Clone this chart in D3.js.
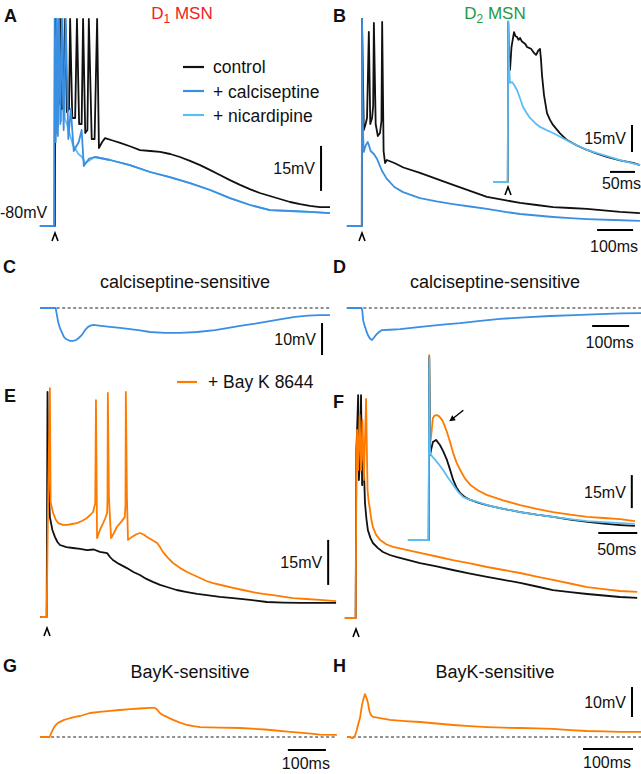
<!DOCTYPE html>
<meta charset="utf-8">
<head>
  <script src="https://cdn.jsdelivr.net/npm/d3@7"></script>
  <style>
    body { margin: 0; background: #fff; }
    text { font-family: Arial, "Liberation Sans", sans-serif; fill: #111; }
  </style>
</head>
<body>
<script>
var w = 641, h = 774;

var cControl = "#111", cCalci = "#3a8fe3", cNicard = "#5cbdf2", cBayk = "#ff7b00";

// traces: [time (ms from stimulus), membrane potential (mV)]
var aNicard = [[-42,-80],[-2,-80],[-1.5,-50],[0,-11],[3,-49],[5,-11],[9,-47],[12,-11],[17,-45],[21,-11],[27,-44],[33,-46],[40,-49],[50,-53],[65,-56],[75,-57],[84,-59],[111,-57],[153,-58],[208,-59.7],[264,-62],[319,-63.7],[375,-65.7],[431,-68],[486,-70.7],[542,-73],[597,-74.7],[653,-75],[708,-75.3],[764,-75.7]];
var aCalci = [[-42,-80],[-2.5,-80],[-2,-52],[-1,-11],[2,-52],[5,-11],[8,-50],[11,-11],[15,-46],[19,-11],[24,-48],[30,-11],[37,-51],[44,-41],[52,-55],[66,-52],[74,-48],[80,-60],[95,-57.5],[111,-57],[153,-58],[208,-59.7],[264,-62],[319,-63.7],[375,-65.7],[431,-68],[486,-70.7],[542,-73],[597,-74.7],[653,-75],[708,-75.3],[764,-75.7]];
var aControl = [[-42,-80],[-0.5,-80],[0,-60],[3,-11],[8,-40],[11,-39],[14,-11],[19,-41],[24,-40],[28,-11],[33,-42],[39,-41],[42,-11],[48,-44],[56,-44],[61,-11],[67,-46],[74,-46],[78,-11],[84,-49],[90,-48],[94,-11],[102,-51],[110,-51],[117,-11],[122,-54],[131,-52],[139,-50.7],[160,-51.5],[181,-52.3],[210,-53.5],[236,-54.7],[265,-55],[292,-55.3],[320,-56],[347,-57],[375,-58.3],[403,-59.7],[430,-61.3],[458,-63],[486,-64.7],[514,-66.3],[541,-67.7],[569,-69],[597,-70],[625,-71],[653,-72],[681,-72.7],[708,-73.3],[736,-73.7],[764,-73.7]];

var bControl = [[-42,-80],[-0.5,-80],[0,-11],[5,-48],[10,-46],[14,-44],[19,-15.3],[23,-46],[28,-44],[31,-40],[33,-12.3],[38,-46],[44,-50],[50,-49],[54,-45],[56,-12],[60,-55],[64,-59],[69,-58],[90,-59],[115,-60.5],[161,-62.3],[207,-64.3],[253,-66.3],[300,-68.3],[347,-70.3],[393,-71.3],[439,-72.3],[485,-73],[531,-73.7],[578,-74],[625,-74.3],[671,-74.8],[717,-75.3],[772,-75.7]];
var bCalci = [[-42,-80],[-0.5,-80],[0,-11],[3,-50],[5,-55.3],[8,-54],[11,-53],[16,-52],[19,-53],[24,-55],[33,-56],[42,-57.7],[55,-61.5],[69,-64.3],[90,-67],[114,-68.7],[161,-70.7],[207,-71.8],[253,-72.7],[300,-73.5],[347,-74.3],[393,-75.2],[439,-76],[485,-76.5],[531,-77],[578,-77.4],[625,-77.7],[700,-78],[772,-78.3]];
var bInsetControl = [[-30,-80],[-0.5,-80],[0.5,9],[2,-10],[4,-17.8],[7,-5],[12,3.3],[15,1],[18,0.6],[21,-1],[24,0],[28,-2],[32,-2.8],[35,-3.5],[38,-5],[42,-5.5],[46,-6],[50,-7.5],[52,-8.3],[56,-9.4],[58,-8.5],[60,-7.2],[64,-6.1],[66,-12],[68,-20.6],[72,-31.7],[78,-41.7],[84,-45.5],[90,-48.3],[104,-53],[118,-56.7],[138,-59.7],[158,-62.2],[178,-64.3],[198,-66.1],[224,-68],[250,-69.4],[264,-70.6]];
var bInsetNicard = [[-30,-80],[-0.5,-80],[0.5,9.4],[2,-15],[4,-25],[8,-24.4],[12,-26],[18,-28.9],[24,-33.5],[30,-38.3],[37,-41.5],[44,-44.4],[54,-47.2],[64,-49.4],[77,-51.2],[90,-52.8],[107,-55.3],[124,-57.8],[141,-60],[158,-62.2],[178,-64],[198,-65.6],[224,-67.8],[250,-69.6],[264,-70.6]];

// difference traces (mV relative to baseline)
var cSensitive = [[-44,0],[-1,0],[0,-0.6],[6,-4.4],[11,-6.3],[17,-7.8],[22,-9],[28,-9.7],[39,-10.3],[48,-10.3],[56,-10],[64,-9.3],[72,-8.4],[80,-7],[89,-5.9],[96,-5.5],[103,-5.3],[125,-5.6],[150,-5.9],[178,-6.2],[206,-6.6],[233,-7],[261,-7.5],[303,-7.8],[344,-7.8],[392,-7.5],[442,-6.9],[475,-6.3],[511,-5.6],[553,-4.9],[594,-4.1],[630,-3.4],[664,-2.8],[700,-2.4],[733,-2.2],[761,-2.2]];
var dSensitive = [[-41,0],[-1,0],[1,-1],[3,-3.8],[7,-5.5],[11,-6.9],[15,-8.2],[19,-9.1],[23,-9.7],[27,-10],[32,-9.3],[38,-8.4],[46,-7.5],[54,-6.9],[75,-6.8],[103,-6.6],[140,-6.1],[184,-5.6],[225,-5.1],[265,-4.7],[320,-4],[373,-3.4],[440,-2.9],[508,-2.5],[575,-2.2],[643,-1.9],[700,-1.7],[754,-1.6]];

var eControl = [[-19,-80],[-1,-80],[1.4,-5],[4,-34.3],[8,-46.7],[15,-51],[22,-53.3],[29,-55],[36,-56],[54,-56.7],[72,-57],[92,-57.3],[111,-57.7],[130,-57.5],[147,-58.3],[167,-58.7],[175,-60],[183,-61],[200,-62.3],[222,-63.7],[240,-65],[258,-66],[276,-67.3],[294,-68.3],[314,-69.3],[333,-70],[360,-71],[389,-71.7],[417,-72.3],[444,-72.7],[480,-73.3],[517,-73.7],[564,-74.3],[611,-75],[657,-75.2],[703,-75.3],[750,-75.3],[803,-75.3]];
var eBayk = [[-19,-80],[-1,-80],[3,-41],[8,-3.7],[10,-41.7],[17,-45.3],[24,-47.5],[31,-48.7],[44,-49.3],[56,-49.3],[70,-49],[83,-48.7],[97,-48],[111,-47],[120,-46],[128,-45],[134,-42],[136,-7.7],[139,-53.7],[147,-51],[156,-48.7],[162,-47],[167,-45.3],[168,-41],[169,-5.3],[172,-40],[178,-53.7],[186,-52],[194,-50],[206,-48.3],[216,-46.7],[218,-42.7],[219,-5],[222,-40],[225,-54.3],[236,-53.3],[247,-52.5],[258,-52],[268,-52.5],[278,-53.3],[292,-54.3],[306,-55.3],[314,-56.7],[322,-58.3],[336,-60.3],[350,-62],[370,-63.7],[389,-65],[407,-66],[425,-67],[443,-68],[461,-68.7],[489,-69.5],[517,-70.3],[544,-71],[572,-71.7],[600,-72.3],[628,-72.7],[655,-73.2],[683,-73.7],[720,-74],[758,-74.3],[803,-74.7]];

var fControl = [[-31,-80],[-1,-80],[1,-24],[3,-17.3],[6,-5.7],[8,-34],[11,-27.3],[14,-5.7],[17,-35.7],[20,-28],[22,-30.7],[25,-41.7],[29,-47],[33,-50.7],[40,-53.3],[47,-55],[61,-56.7],[75,-58],[94,-59],[114,-59.7],[146,-60.7],[178,-61.7],[224,-62.8],[269,-64],[317,-65.2],[364,-66.3],[410,-67.3],[456,-68.3],[502,-69.5],[547,-70.7],[595,-71.4],[642,-72],[688,-72.5],[733,-73],[781,-73.3]];
var fBayk = [[-31,-80],[-1,-80],[1,-34],[3,-17.3],[6,-30.7],[10,-12.3],[14,-30.7],[18,-14],[22,-34],[28,-7],[32,-37.3],[35,-41],[39,-44],[43,-47.5],[47,-49.7],[56,-52.3],[67,-54],[85,-55.5],[103,-56.3],[140,-57.3],[178,-58.3],[224,-59.5],[269,-60.7],[317,-61.8],[364,-63],[410,-64],[456,-65],[502,-66.2],[547,-67.3],[595,-68.5],[642,-69.7],[688,-70.4],[733,-71],[781,-71.3]];
var fInsetBayk = [[-27,-80],[-0.4,-80],[0.3,4],[1.3,-36.8],[2.6,-33.2],[5,-24.5],[7,-23.5],[10,-23.2],[13,-23.8],[17,-25.5],[20,-28],[23,-30.9],[27,-35.5],[31,-40.5],[35,-44.5],[40,-48.2],[46,-52],[53,-55],[63,-57.5],[74,-59.5],[95,-62],[117,-64.1],[138,-65.9],[159,-67.3],[181,-68.5],[203,-69.5],[224,-70],[245,-70.5],[264,-71.4]];
var fInsetControl = [[-27,-80],[-0.4,-80],[0.3,3],[1.3,-41.4],[2.6,-39.1],[5,-35.5],[9,-34.5],[14,-36.8],[18,-39.5],[23,-43.6],[27,-48],[31,-52.7],[35,-56],[40,-58.6],[46,-60.5],[53,-61.8],[63,-63],[74,-64.1],[95,-65.8],[117,-67.3],[138,-68.5],[159,-69.5],[181,-70.7],[203,-71.8],[224,-72.6],[245,-73.2],[264,-73.6]];
var fInsetNicard = [[-27,-80],[-0.4,-80],[0.3,3],[1.3,-40.5],[4,-42],[8,-43.6],[13,-45.8],[18,-48.2],[24,-51.5],[31,-55],[37,-58],[44,-60.5],[53,-61.8],[62,-62.7],[74,-64.1],[95,-65.8],[117,-67.3],[138,-68.5],[159,-69.5],[181,-70.5],[203,-71.4],[224,-71.9],[245,-72.3],[264,-72.7]];

var gSensitive = [[-26,0],[-1,0],[3,1.3],[7,2.3],[11,3.3],[16,4.1],[21,4.7],[29,5.2],[37,5.7],[45,6],[53,6.3],[66,6.7],[79,7],[92,7.5],[105,8],[131,8.4],[158,8.7],[184,9],[211,9.3],[237,9.5],[263,9.7],[276,9.7],[283,9],[289,8],[297,7.3],[305,6.9],[314,6.3],[324,5.7],[342,4.8],[361,4],[378,3.6],[395,3.3],[447,3.1],[500,3],[566,2.5],[632,1.7],[680,1.2],[711,0.8],[755,0.7]];
var hSensitive = [[-16,0],[-9,0],[-6,-0.4],[-3,-0.2],[-1,0],[3,2],[6,4],[10,6.3],[14,10.7],[17,12.7],[20,14.3],[23,13],[26,11.3],[29,8.5],[32,7.3],[36,6.7],[50,6.3],[70,5.7],[100,5.3],[130,5],[163,4.5],[196,4],[230,3.6],[264,3.3],[297,3.1],[330,3],[363,2.9],[396,2.7],[430,2.3],[464,2],[497,1.9],[530,1.7],[572,1.7]];

var legendA = [["control", cControl], ["+ calciseptine", cCalci], ["+ nicardipine", cNicard]];

var svg = d3.select("body").append("svg")
    .attr("width", w)
    .attr("height", h);

function panel(t0, t1, x0, x1, v0, v1, y0, y1) {
  return {
    x: d3.scaleLinear().domain([t0, t1]).range([x0, x1]),
    y: d3.scaleLinear().domain([v0, v1]).range([y0, y1])
  };
}

var pA = panel(0, 100, 55, 91, -80, -65, 226, 181);
var pB = panel(0, 100, 362, 398, -80, -65, 226, 181);
var pBi = panel(0, 50, 508, 533, -80, -65, 182, 155);
var pC = panel(0, 100, 56, 92, 0, -10, 308, 340);
var pD = panel(0, 100, 362, 399, 0, -10, 308, 340);
var pE = panel(0, 100, 47, 83, -80, -65, 617, 572);
var pF = panel(0, 100, 356, 392, -80, -65, 618, 573);
var pFi = panel(0, 50, 429, 468, -80, -65, 540, 507);
var pG = panel(0, 100, 50, 88, 0, 10, 737, 707);
var pH = panel(0, 100, 355, 405, 0, 10, 737, 707);

function trace(p, data, color, wd) {
  var line = d3.line()
      .x(function(d){ return p.x(d[0]); })
      .y(function(d){ return p.y(d[1]); });
  svg.append("path")
    .datum(data)
    .attr("d", line)
    .attr("fill", "none")
    .attr("stroke", color)
    .attr("stroke-width", wd || 1.8)
    .attr("stroke-linejoin", "round");
}

function dashed(p, t0, t1) {
  svg.append("line")
    .attr("x1", p.x(t0)).attr("x2", p.x(t1))
    .attr("y1", p.y(0)).attr("y2", p.y(0))
    .attr("stroke", "#222").attr("stroke-width", 1.2)
    .attr("stroke-dasharray", "3,2.5");
}

function vbar(p, t, v0, v1, label) {
  var x = p.x(t), ya = p.y(v0), yb = p.y(v1);
  svg.append("line").attr("x1", x).attr("x2", x).attr("y1", ya).attr("y2", yb)
    .attr("stroke", "#000").attr("stroke-width", 2);
  svg.append("text").attr("x", x - 6).attr("y", (ya + yb) / 2 + 6)
    .attr("text-anchor", "end").attr("font-size", 16).text(label);
}

function hbar(p, t0, t1, v, label, off) {
  var y = p.y(v), xa = p.x(t0), xb = p.x(t1);
  svg.append("line").attr("x1", xa).attr("x2", xb).attr("y1", y).attr("y2", y)
    .attr("stroke", "#000").attr("stroke-width", 2);
  svg.append("text").attr("x", (xa + xb) / 2 - 1).attr("y", y + off)
    .attr("text-anchor", "middle").attr("font-size", 16).text(label);
}

function caret(p, off) {
  var x = p.x(0), y = p.y(-80) + off;
  svg.append("path")
    .attr("d", "M" + (x - 3) + "," + (y + 4) + "L" + x + "," + (y - 4) + "L" + (x + 3) + "," + (y + 4))
    .attr("fill", "none").attr("stroke", "#000").attr("stroke-width", 1.6);
}

function letter(x, y, s) {
  svg.append("text").attr("x", x).attr("y", y)
    .attr("font-size", 18).attr("font-weight", "bold").text(s);
}

function title(x, y, s) {
  svg.append("text").attr("x", x).attr("y", y)
    .attr("text-anchor", "middle").attr("font-size", 18).text(s);
}

// ---- A ----
trace(pA, aNicard, cNicard);
trace(pA, aControl, cControl);
trace(pA, aCalci, cCalci);
caret(pA, 11);
vbar(pA, 739, -68.3, -53.3, "15mV");
svg.append("text").attr("x", 0).attr("y", 218).attr("font-size", 16).text("-80mV");

var lg = svg.selectAll(".lgA").data(legendA).enter().append("g");
lg.append("line")
  .attr("x1", 183).attr("x2", 204)
  .attr("y1", function(d, i){ return 67 + i * 24; })
  .attr("y2", function(d, i){ return 67 + i * 24; })
  .attr("stroke", function(d){ return d[1]; }).attr("stroke-width", 2.2);
lg.append("text")
  .attr("x", 213).attr("y", function(d, i){ return 73 + i * 24.5; })
  .attr("font-size", 17.5).text(function(d){ return d[0]; });

var tA = svg.append("text").attr("x", 182).attr("y", 19).attr("text-anchor", "middle")
  .attr("font-size", 17).style("fill", "#ee2222");
tA.append("tspan").text("D");
tA.append("tspan").attr("dy", 4).attr("font-size", 12).text("1");
tA.append("tspan").attr("dy", -4).text(" MSN");

// ---- B ----
trace(pB, bControl, cControl);
trace(pB, bCalci, cCalci);
caret(pB, 11);
hbar(pB, 653, 753, -81.3, "100ms", 22);
trace(pBi, bInsetControl, cControl);
trace(pBi, bInsetNicard, cNicard);
caret(pBi, 9);
vbar(pBi, 248, -63.3, -48.3, "15mV");
hbar(pBi, 204, 254, -74.4, "50ms", 17);

var tB = svg.append("text").attr("x", 495).attr("y", 19).attr("text-anchor", "middle")
  .attr("font-size", 17).style("fill", "#1f9a40");
tB.append("tspan").text("D");
tB.append("tspan").attr("dy", 4).attr("font-size", 12).text("2");
tB.append("tspan").attr("dy", -4).text(" MSN");

// ---- C, D ----
dashed(pC, -44, 761);
trace(pC, cSensitive, cCalci);
vbar(pC, 739, -4.7, -14.7, "10mV");
title(185, 288, "calciseptine-sensitive");

dashed(pD, -41, 754);
trace(pD, dSensitive, cCalci);
hbar(pD, 622, 722, -5.6, "100ms", 22);
title(495, 288, "calciseptine-sensitive");

// ---- E ----
trace(pE, eControl, cControl);
trace(pE, eBayk, cBayk);
caret(pE, 15);
vbar(pE, 781, -69.3, -54.3, "15mV");
svg.append("line").attr("x1", 177).attr("x2", 197).attr("y1", 382).attr("y2", 382)
  .attr("stroke", cBayk).attr("stroke-width", 2.2);
svg.append("text").attr("x", 208).attr("y", 388).attr("font-size", 17.5).text("+ Bay K 8644");

// ---- F ----
trace(pF, fControl, cControl);
trace(pF, fBayk, cBayk);
caret(pF, 15);
trace(pFi, fInsetBayk, cBayk);
trace(pFi, fInsetControl, cControl);
trace(pFi, fInsetNicard, cNicard);
vbar(pFi, 260, -65.5, -50.5, "15mV");
hbar(pFi, 217, 267, -76.8, "50ms", 22);

// arrow onto the Bay K hump
var ax0 = pFi.x(44), ay0 = pFi.y(-21), ax1 = pFi.x(26), ay1 = pFi.y(-26);
svg.append("line").attr("x1", ax0).attr("y1", ay0).attr("x2", ax1 + 3).attr("y2", ay1 - 2.2)
  .attr("stroke", "#000").attr("stroke-width", 1.4);
svg.append("path")
  .attr("d", "M" + ax1 + "," + ay1 + "L" + (ax1 + 3) + "," + (ay1 - 6) + "L" + (ax1 + 6.5) + "," + (ay1 - 1) + "Z")
  .attr("fill", "#000");

// ---- G, H ----
dashed(pG, -26, 755);
trace(pG, gSensitive, cBayk);
hbar(pG, 626, 726, -4.3, "100ms", 19);
title(190, 678, "BayK-sensitive");

dashed(pH, -16, 572);
trace(pH, hSensitive, cBayk);
vbar(pH, 554, 6.7, 16.7, "10mV");
hbar(pH, 456, 556, -4, "100ms", 19);
title(495, 678, "BayK-sensitive");

letter(4, 22, "A");
letter(333, 22, "B");
letter(3, 273, "C");
letter(333, 273, "D");
letter(4, 402, "E");
letter(333, 408, "F");
letter(3, 672, "G");
letter(333, 672, "H");
</script>
</body>
